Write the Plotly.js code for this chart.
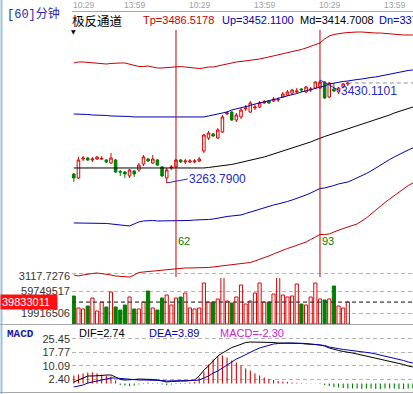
<!DOCTYPE html>
<html><head><meta charset="utf-8">
<script src="https://cdn.plot.ly/plotly-3.0.1.min.js"></script>
<style>html,body{margin:0;padding:0;background:#fff;overflow:hidden}#chart{width:413px;height:394px}</style>
</head><body><div id="chart"></div>
<script>
// ---------- candles (60-minute bars) ----------
const candleOpen  = [3278.3,3271.8,3302.5,3304.1,3300.9,3302.5,3302.5,3300.9,3296.1,3300.9,3282.3,3281.5,3275.1,3283.1,3284.8,3294.5,3302.5,3296.1,3300.9,3289.6,3271.8,3288.0,3289.6,3300.9,3297.7,3297.7,3297.7,3299.3,3315.5,3336.4,3342.9,3336.4,3346.1,3375.2,3378.4,3365.5,3370.4,3383.3,3378.4,3384.9,3386.5,3393.0,3396.2,3396.2,3397.8,3402.7,3405.9,3409.1,3410.7,3415.6,3410.7,3414.0,3417.2,3417.2,3426.9,3402.7,3415.6,3410.7,3418.8,3423.7];
const candleHigh  = [3279.9,3305.8,3307.4,3305.8,3305.8,3307.4,3307.4,3302.5,3312.2,3302.5,3284.8,3283.1,3286.4,3284.8,3296.1,3309.0,3304.1,3309.0,3302.5,3291.2,3288.0,3292.8,3302.5,3302.5,3302.5,3302.5,3302.5,3305.8,3342.9,3347.7,3344.5,3352.6,3373.6,3380.0,3380.0,3376.8,3384.9,3389.7,3396.2,3391.3,3396.2,3397.8,3397.8,3402.7,3402.7,3410.7,3414.0,3415.6,3417.2,3417.2,3420.4,3418.8,3428.5,3430.1101,3428.5,3426.9,3425.3,3418.8,3425.3,3426.9];
const candleLow   = [3265.4,3270.2,3299.3,3299.3,3297.7,3300.9,3300.9,3296.1,3294.5,3279.9,3275.1,3271.8,3271.8,3273.5,3281.5,3291.2,3297.7,3294.5,3291.2,3273.5,3263.79,3284.8,3288.0,3296.1,3294.5,3296.1,3296.1,3297.7,3312.2,3333.2,3338.1,3334.8,3344.5,3373.6,3363.9,3362.3,3367.1,3380.0,3376.8,3381.7,3384.9,3391.3,3391.3,3394.6,3394.6,3401.0,3404.3,3405.9,3409.1,3410.7,3409.1,3410.7,3415.6,3415.6,3399.4,3401.0,3410.7,3407.5,3417.2,3420.4];
const candleClose = [3271.8,3300.9,3304.1,3300.9,3302.5,3305.8,3303.3,3297.7,3304.1,3281.5,3281.5,3278.3,3284.8,3278.3,3292.8,3305.8,3299.3,3302.5,3292.8,3275.1,3284.8,3289.6,3300.9,3297.7,3299.3,3299.3,3299.3,3302.5,3341.3,3344.5,3339.7,3349.4,3370.4,3376.8,3365.5,3373.6,3381.7,3384.9,3393.0,3386.5,3393.0,3394.6,3393.0,3399.4,3398.6,3407.5,3410.7,3414.0,3412.3,3414.0,3418.8,3415.6,3426.9,3426.9,3401.0,3425.3,3412.3,3417.2,3423.7,3425.3];
const volume = [50.7e6,29.0e6,27.2e6,32.6e6,47.1e6,23.5e6,39.8e6,30.8e6,57.9e6,30.8e6,25.3e6,34.4e6,48.9e6,27.2e6,27.2e6,39.8e6,59.7e6,29.0e6,25.3e6,47.1e6,52.5e6,34.4e6,47.1e6,48.9e6,56.1e6,29.0e6,27.2e6,29.0e6,74.2e6,39.8e6,39.8e6,45.3e6,85.1e6,41.6e6,38.0e6,48.9e6,70.6e6,36.2e6,41.6e6,56.1e6,74.2e6,39.8e6,39.8e6,54.3e6,85.1e6,52.5e6,48.9e6,50.7e6,72.4e6,36.2e6,34.4e6,48.9e6,74.2e6,45.3e6,43.5e6,45.3e6,68.8e6,32.6e6,29.0e6,39.8e6];

// ---------- 极反通道 lines ----------
const tp = [3457.6,3459.2,3459.2,3458.4,3457.6,3457.6,3456.8,3455.9,3456.8,3457.6,3457.6,3457.6,3455.9,3453.5,3451.9,3451.9,3452.7,3451.1,3449.5,3449.5,3450.3,3451.1,3451.9,3451.9,3451.1,3450.3,3449.5,3448.7,3449.5,3451.1,3451.1,3452.7,3454.3,3456.8,3458.4,3459.2,3460.0,3460.8,3461.6,3462.4,3464.0,3465.6,3467.2,3468.9,3470.5,3472.1,3474.5,3476.1,3477.7,3479.4,3481.8,3484.2,3486.6,3489.9,3496.3,3501.2,3503.6,3505.2,3506.0,3506.8,3507.6,3507.6,3507.6,3506.8,3506.0,3506.0,3506.0,3505.2,3504.4,3504.4,3503.6,3502.8,3502.8,3502.8];
const up = [3375.2,3375.2,3375.2,3374.4,3373.6,3373.6,3372.8,3372.8,3372.0,3372.0,3372.0,3372.0,3371.2,3370.4,3370.4,3370.4,3370.4,3370.4,3369.5,3369.5,3370.4,3370.4,3370.4,3370.4,3370.4,3369.5,3369.5,3370.4,3370.4,3372.0,3373.6,3375.2,3376.8,3378.4,3381.7,3383.3,3384.9,3386.5,3388.9,3391.3,3392.9,3394.6,3396.2,3397.8,3400.2,3402.6,3404.3,3405.9,3408.3,3410.7,3412.3,3414.8,3416.4,3418.8,3420.4,3423.7,3425.3,3426.9,3427.7,3428.5,3430.1,3430.9,3431.7,3433.3,3434.2,3435.0,3436.6,3438.2,3439.0,3440.6,3442.2,3443.9,3445.5,3446.3];
const md = [3288.0,3288.0,3288.0,3288.0,3288.0,3288.0,3288.0,3288.0,3288.0,3288.0,3288.0,3288.0,3288.0,3287.2,3287.2,3287.2,3287.2,3287.2,3287.2,3287.2,3287.2,3288.0,3288.0,3288.0,3288.0,3288.0,3288.0,3288.0,3288.0,3288.8,3289.6,3290.4,3291.2,3292.9,3293.7,3295.3,3296.9,3298.5,3300.9,3302.5,3304.1,3305.8,3308.2,3310.6,3312.2,3314.6,3317.1,3319.5,3321.9,3325.1,3327.6,3330.0,3333.2,3336.4,3338.9,3341.3,3343.7,3346.1,3348.6,3351.0,3353.4,3355.8,3358.2,3361.5,3363.9,3366.3,3368.7,3371.2,3373.6,3376.8,3379.2,3381.7,3384.1,3386.5];
const dn = [3199.2,3199.2,3198.4,3198.4,3199.2,3199.2,3199.2,3198.4,3197.6,3196.7,3195.9,3195.1,3194.3,3197.6,3200.8,3202.4,3203.2,3203.2,3202.4,3202.4,3202.4,3202.4,3202.4,3202.4,3203.2,3203.2,3204.0,3204.0,3204.0,3204.8,3205.6,3207.2,3208.9,3209.7,3210.5,3211.3,3212.1,3214.5,3216.9,3219.4,3221.8,3224.2,3226.6,3228.2,3229.9,3231.5,3233.9,3236.3,3238.7,3241.9,3244.4,3247.6,3250.8,3254.9,3255.7,3257.3,3259.7,3262.2,3263.8,3265.4,3268.6,3271.8,3275.1,3279.1,3283.2,3288.0,3292.9,3297.7,3301.7,3305.8,3309.8,3313.8,3317.1,3320.3];
const bt = [3115.2,3113.6,3115.2,3116.8,3117.6,3118.4,3117.6,3116.8,3115.2,3113.6,3112.8,3111.9,3111.9,3115.2,3119.2,3120.0,3120.8,3121.7,3122.5,3123.3,3124.1,3124.9,3125.7,3126.5,3126.5,3126.5,3126.5,3126.5,3126.5,3127.3,3128.1,3128.9,3129.7,3131.3,3132.1,3133.0,3133.8,3134.6,3135.4,3137.8,3140.2,3142.6,3145.9,3149.1,3152.3,3155.6,3158.0,3160.4,3162.8,3165.2,3168.5,3172.5,3176.6,3180.6,3180.6,3181.4,3184.6,3187.9,3190.3,3192.7,3195.1,3197.6,3202.4,3207.2,3213.7,3220.2,3226.6,3232.3,3237.9,3243.6,3249.2,3254.9,3259.7,3263.8];

// ---------- MACD ----------
const dif = [0.85,1.99,3.13,4.27,4.27,4.27,4.55,4.84,4.84,3.70,2.28,1.99,1.99,2.28,2.56,2.56,2.56,2.28,1.99,1.42,0.85,1.14,1.42,1.42,1.42,1.71,1.99,4.27,7.68,9.96,12.80,15.65,17.35,19.06,20.48,21.34,22.48,23.33,23.61,23.61,23.61,23.61,23.61,23.33,23.04,23.04,23.04,23.04,23.04,22.76,22.48,22.48,22.19,21.91,21.34,20.20,19.35,18.78,18.21,17.92,17.35,16.79,16.22,15.65,15.08,14.51,13.94,13.37,12.80,12.23,11.66,10.81,9.96,9.39];
const dea = [-1.99,-1.42,-0.85,0.28,0.85,1.42,1.99,2.56,3.13,3.13,2.85,2.56,2.28,1.99,1.99,1.99,1.99,1.99,1.99,1.71,1.42,1.42,1.42,1.42,1.42,1.71,1.71,1.99,3.13,4.27,5.97,7.11,8.82,10.53,12.23,13.94,15.08,16.50,17.92,19.06,20.20,21.05,21.91,22.48,22.76,23.04,23.04,23.04,23.04,23.04,22.76,22.48,22.19,21.91,21.62,20.77,20.20,19.63,19.35,19.06,18.78,18.49,18.21,17.92,17.35,16.79,16.22,15.65,15.08,14.51,13.94,13.09,12.23,11.66];
const macdHist = [4.55,5.12,5.69,6.26,6.26,5.69,5.12,4.55,3.98,1.71,-0.85,-1.14,-1.42,-1.14,-0.57,0.28,0.57,0.28,-0.28,-0.57,-0.85,-0.57,-0.28,0.28,0.28,0.57,0.85,3.41,6.83,10.81,13.66,15.36,15.93,14.79,13.09,11.95,10.24,8.54,7.40,5.69,4.55,3.41,2.56,1.99,1.42,1.14,0.85,0.57,0.40,0.28,0.17,0.11,-0.17,-0.34,-0.85,-1.42,-1.99,-2.28,-2.56,-2.85,-2.85,-2.85,-3.13,-2.85,-2.85,-3.13,-3.13,-2.85,-2.85,-2.85,-3.13,-3.13,-2.85,-2.85];

// ---------- labels ----------
const timeLabelIdx  = [0, 11, 25, 39, 53, 67];
const timeLabelText = ['10:29','13:59','10:29','13:59','10:29','13:59'];
const markIdx  = [22, 53];
const markText = ['62', '93'];
const mainTick = 3117.7276;
const volTicks = [19916506, 39833011, 59749517];
const macdTicks = [2.40, 10.09, 17.77, 25.45];
const headerNames  = ['Tp', 'Up', 'Md', 'Dn'];
const headerValues = ['3486.5178', '3452.1100', '3414.7008', '3377.2916'];
const macdNames  = ['DIF', 'DEA', 'MACD'];
const macdValues = ['2.74', '3.89', '-2.30'];

// ---------- styling ----------
const RED = '#e00000', DRED = '#c80000', GREEN = '#008000', BLUE = '#0000b4', BLACK = '#000000';
const NUM = 'Liberation Sans, Arial, sans-serif';
const CJK = 'Noto Sans CJK SC, sans-serif';
const H = 394;
const py = p => 1 - p / H;   // pixel row -> paper
const XR = [-0.39, 73.03];

const bx = candleOpen.map((_, i) => i);
const ix = tp.map((_, i) => i);
const isUp = candleOpen.map((o, i) => candleClose[i] >= o);

const traces = [
  {type:'scatter', mode:'lines', x: ix, y: tp, xaxis:'x', yaxis:'y', line:{color:DRED, width:1}},
  {type:'scatter', mode:'lines', x: ix, y: up, xaxis:'x', yaxis:'y', line:{color:BLUE, width:1}},
  {type:'scatter', mode:'lines', x: ix, y: md, xaxis:'x', yaxis:'y', line:{color:BLACK, width:1}},
  {type:'scatter', mode:'lines', x: ix, y: dn, xaxis:'x', yaxis:'y', line:{color:BLUE, width:1}},
  {type:'scatter', mode:'lines', x: ix, y: bt, xaxis:'x', yaxis:'y', line:{color:DRED, width:1}},
  {type:'candlestick', x: bx, open: candleOpen, high: candleHigh, low: candleLow, close: candleClose,
   xaxis:'x', yaxis:'y', whiskerwidth: 0,
   increasing:{line:{color:RED, width:1}, fillcolor:'#ffffff'},
   decreasing:{line:{color:GREEN, width:1}, fillcolor:GREEN}},
  {type:'scatter', mode:'lines', x:[bx[bx.length-1], ix[ix.length-1]],
   y:[candleClose[candleClose.length-1], candleClose[candleClose.length-1]],
   xaxis:'x', yaxis:'y', line:{color:'#909090', width:1, dash:'4px,3px'}},
  {type:'bar', x: bx, y: volume, xaxis:'x', yaxis:'y2', width:0.68,
   marker:{color: isUp.map(u => u ? 'rgba(255,255,255,0)' : GREEN),
           line:{color: isUp.map(u => u ? RED : GREEN), width:1}}},
  {type:'bar', x: ix, y: macdHist, xaxis:'x', yaxis:'y3', width:0.24,
   marker:{color: macdHist.map(v => v >= 0 ? RED : GREEN), line:{width:0}}},
  {type:'scatter', mode:'lines', x: ix, y: dif, xaxis:'x', yaxis:'y3', line:{color:BLACK, width:1}},
  {type:'scatter', mode:'lines', x: ix, y: dea, xaxis:'x', yaxis:'y3', line:{color:BLUE, width:1}}
];

const annotations = [];
// top time labels
timeLabelIdx.forEach((ti, k) => annotations.push({x: Math.max(ti - 0.4, XR[0] + 0.01), y: py(5), xref:'x', yref:'paper',
  text: timeLabelText[k], showarrow:false, xanchor:'left', yanchor:'middle', borderpad:0, font:{family:NUM, size:8.5, color:'#a0a0a0'}}));
// left title
annotations.push({x: 5/413, y: py(13), xref:'paper', yref:'paper', xanchor:'left', yanchor:'middle', showarrow:false,
  text:'<span style="font-family:Liberation Mono">[60]</span>分钟', font:{family:CJK, size:12, color:'#2a2aa8'}});
annotations.push({x: 71/413, y: py(20.5), xref:'paper', yref:'paper', xanchor:'left', yanchor:'middle', showarrow:false,
  borderpad:0, text:'极反通道', font:{family:CJK, size:12.5, color:BLACK}});
annotations.push({x: 73.5/413, y: py(31.5), xref:'paper', yref:'paper', xanchor:'center', yanchor:'middle', showarrow:false,
  text:'▼', borderpad:0, font:{family:'DejaVu Sans', size:6, color:BLACK}});
const headerX = [141, 220, 298, 377], headerCol = [DRED, BLUE, BLACK, BLUE];
headerNames.forEach((n, k) => annotations.push({x: headerX[k]/413, y: py(20), xref:'paper', yref:'paper', xanchor:'left', yanchor:'middle',
  showarrow:false, text: n + '=' + headerValues[k], font:{family:NUM, size:11, color: headerCol[k]}}));
// marks
markIdx.forEach((mi, k) => annotations.push({x: mi, y: py(241), xref:'x', yref:'paper', xanchor:'left', yanchor:'middle', xshift:0,
  showarrow:false, text: markText[k], font:{family:NUM, size:11, color:GREEN}}));
// high/low pointers
const lowVal = Math.min(...candleLow), lowIdx = candleLow.indexOf(lowVal);
const highVal = Math.max(...candleHigh), highIdx = candleHigh.indexOf(highVal);
annotations.push({x: lowIdx, y: lowVal, xref:'x', yref:'y', text: lowVal.toFixed(4), showarrow:true, arrowhead:0, arrowwidth:1,
  arrowcolor:'#2828c8', ax:21, ay:-4, xanchor:'left', yanchor:'middle', standoff:0, startstandoff:0, borderpad:0,
  font:{family:NUM, size:12, color:'#2828c8'}});
annotations.push({x: highIdx, y: highVal, xref:'x', yref:'y', text: highVal.toFixed(4), showarrow:true, arrowhead:0, arrowwidth:1,
  arrowcolor:'#2828c8', ax:20, ay:11, xanchor:'left', yanchor:'middle', standoff:0, startstandoff:0, borderpad:0,
  font:{family:NUM, size:12, color:'#2828c8'}});
// volume highlight label
annotations.push({x: 0, y: volTicks[1], xref:'paper', yref:'y2', xanchor:'left', yanchor:'middle', showarrow:false,
  text: String(volTicks[1]) + '&nbsp;&nbsp;', bgcolor:'#ff1010', borderpad:1, font:{family:NUM, size:11, color:'#ffffff'}});
// MACD header
annotations.push({x: 5/413, y: py(334), xref:'paper', yref:'paper', xanchor:'left', yanchor:'middle', showarrow:false,
  text:'<b>MACD</b>', font:{family:'Liberation Mono', size:11, color:'#1818a0'}});
const macdX = [77, 147, 218], macdCol = [BLACK, BLUE, '#d020d0'];
macdNames.forEach((n, k) => annotations.push({x: macdX[k]/413, y: py(333), xref:'paper', yref:'paper', xanchor:'left', yanchor:'middle',
  showarrow:false, text: n + '=' + macdValues[k], font:{family:NUM, size:11, color: macdCol[k]}}));

const shapes = [];
markIdx.forEach(mi => shapes.push({type:'line', xref:'x', yref:'paper', x0: mi, x1: mi, y0: py(277), y1: py(30),
  line:{color:DRED, width:1}}));
shapes.push({type:'line', xref:'x', yref:'y2', x0: XR[0], x1: XR[1], y0: volTicks[1], y1: volTicks[1],
  line:{color:'#303030', width:1, dash:'4px,3px'}});
shapes.push({type:'line', xref:'paper', yref:'paper', x0: 1.5/413, x1: 1.5/413, y0: 0, y1: 1, line:{color:'#9cc4e4', width:2}});
shapes.push({type:'line', xref:'paper', yref:'paper', x0: 0, x1: 1, y0: py(324.5), y1: py(324.5), line:{color:'#a8a8a8', width:1}});
shapes.push({type:'line', xref:'paper', yref:'paper', x0: 0, x1: 1, y0: py(392.5), y1: py(392.5), line:{color:'#a8a8a8', width:1}});

const yBase = {fixedrange:true, zeroline:false, showline:false, ticks:'', anchor:'x', side:'left',
  tickfont:{family:NUM, size:11, color:'#333333'}, gridcolor:'#b4b4b4', griddash:'4px,3px', gridwidth:1, ticklabelstandoff:1};

const layout = {
  width:413, height:394, margin:{l:0, r:0, t:0, b:0}, paper_bgcolor:'#ffffff', plot_bgcolor:'#ffffff',
  showlegend:false, hovermode:false, barmode:'overlay', boxgap:0.22,
  xaxis:{domain:[72/413, 1], range: XR, anchor:'free', position: py(11), side:'top',
    showline:true, linecolor:'#a8a8a8', linewidth:1, showticklabels:false, ticks:'', showgrid:false, zeroline:false,
    rangeslider:{visible:false}, fixedrange:true},
  yaxis: Object.assign({}, yBase, {domain:[py(278), py(30)], range:[3110.3, 3510.86],
    tickvals:[mainTick], ticktext:[mainTick.toFixed(4)], ticklabelshift:3}),
  yaxis2: Object.assign({}, yBase, {domain:[py(324), py(278)], range:[0, 83.3e6],
    tickvals: volTicks, ticktext:[String(volTicks[0]), '', String(volTicks[2])]}),
  yaxis3: Object.assign({}, yBase, {domain:[py(392), py(334)], range:[-4.84, 28.17],
    tickvals: macdTicks, ticktext: macdTicks.map(v => v.toFixed(2))}),
  annotations, shapes
};

Plotly.newPlot('chart', traces, layout, {staticPlot:true, displayModeBar:false});
</script></body></html>
